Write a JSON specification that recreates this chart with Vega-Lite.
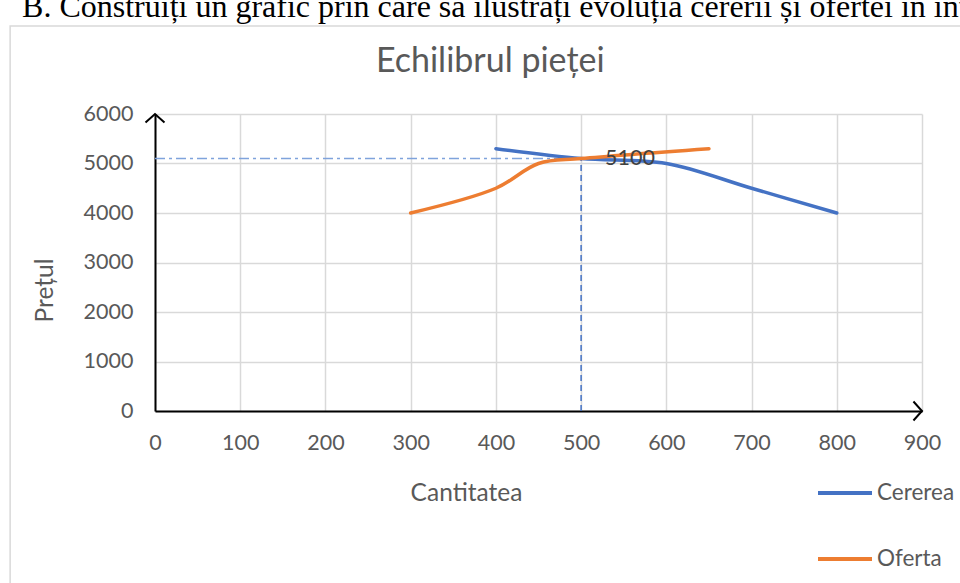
{
  "$schema": "https://vega.github.io/schema/vega-lite/v6.json",
  "autosize": "none",
  "width": 767,
  "height": 297,
  "padding": {"left": 155, "top": 114, "right": 38, "bottom": 172},
  "background": "white",
  "config": {
    "view": {"stroke": null},
    "axis": {
      "domainColor": "#000000",
      "domainWidth": 2,
      "ticks": false,
      "labelFlush": false,
      "gridColor": "#d9d9d9",
      "gridWidth": 1.5,
      "labelFont": "Lato",
      "labelFontSize": 21.5,
      "labelColor": "#595959",
      "titleFont": "Lato",
      "titleFontSize": 24.5,
      "titleFontWeight": "normal",
      "titleColor": "#595959"
    }
  },
  "encoding": {
    "x": {
      "field": "q",
      "type": "quantitative",
      "scale": {"domain": [0, 900], "nice": false, "zero": false},
      "axis": {
        "values": [0, 100, 200, 300, 400, 500, 600, 700, 800, 900],
        "format": "d",
        "title": "Cantitatea",
        "labelPadding": 21,
        "titleX": 311,
        "titleY": 82,
        "titleBaseline": "middle",
        "titleAlign": "center"
      }
    },
    "y": {
      "field": "p",
      "type": "quantitative",
      "scale": {"domain": [0, 6000], "nice": false, "zero": false},
      "axis": {
        "values": [0, 1000, 2000, 3000, 4000, 5000, 6000],
        "format": "d",
        "title": "Prețul",
        "labelPadding": 22,
        "titleX": -110,
        "titleY": 176,
        "titleBaseline": "middle",
        "titleAlign": "center"
      }
    }
  },
  "layer": [
    {
      "data": {"values": [{"q": -170, "q2": 960, "p": 7778, "p2": -4000}]},
      "mark": {"type": "rect", "fill": null, "stroke": "#d9d9d9", "strokeWidth": 1.5, "clip": false},
      "encoding": {"x2": {"field": "q2"}, "y2": {"field": "p2"}}
    },
    {
      "data": {"values": [{"q": -156, "p": 7960, "label": "B. Construiți un grafic prin care să ilustrați evoluția cererii și ofertei în inte"}]},
      "mark": {"type": "text", "align": "left", "baseline": "alphabetic", "font": "Liberation Serif", "fontSize": 32, "color": "#000000"},
      "encoding": {"text": {"field": "label"}}
    },
    {
      "data": {"values": [{"q": 0, "q2": 500, "p": 5100}]},
      "mark": {"type": "rule", "color": "#7fa3dc", "strokeWidth": 1.5, "strokeDash": [10, 4, 3, 4]},
      "encoding": {"x2": {"field": "q2"}}
    },
    {
      "data": {"values": [{"q": 500, "p": 0, "p2": 5100}]},
      "mark": {"type": "rule", "color": "#4472c4", "strokeWidth": 1.5, "strokeDash": [6, 4]},
      "encoding": {"y2": {"field": "p2"}}
    },
    {
      "data": {"values": [
        {"series": "Cererea", "q": 400, "p": 5300},
        {"series": "Cererea", "q": 500, "p": 5100},
        {"series": "Cererea", "q": 600, "p": 5000},
        {"series": "Cererea", "q": 700, "p": 4500},
        {"series": "Cererea", "q": 800, "p": 4000},
        {"series": "Oferta", "q": 300, "p": 4000},
        {"series": "Oferta", "q": 400, "p": 4500},
        {"series": "Oferta", "q": 450, "p": 5000},
        {"series": "Oferta", "q": 500, "p": 5100},
        {"series": "Oferta", "q": 650, "p": 5300}
      ]},
      "mark": {"type": "line", "interpolate": "catmull-rom", "strokeWidth": 3.5, "strokeCap": "round"},
      "encoding": {
        "color": {
          "field": "series",
          "type": "nominal",
          "scale": {"domain": ["Cererea", "Oferta"], "range": ["#4472c4", "#ed7d31"]},
          "legend": {
            "orient": "none",
            "legendX": 661,
            "legendY": 350,
            "title": null,
            "padding": 0,
            "symbolType": "stroke",
            "symbolSize": 2916,
            "symbolStrokeWidth": 4,
            "labelFont": "Lato",
            "labelFontSize": 22.5,
            "labelColor": "#595959",
            "labelOffset": 3,
            "rowPadding": 25
          }
        }
      }
    },
    {
      "data": {"values": [{"q": 500, "p": 5100, "label": "5100"}]},
      "mark": {"type": "text", "align": "left", "baseline": "middle", "dx": 24, "font": "Lato", "fontSize": 21.5, "color": "#404040"},
      "encoding": {"text": {"field": "label"}}
    },
    {
      "data": {"values": [{"q": 393.4, "p": 6848, "label": "Echilibrul pieței"}]},
      "mark": {"type": "text", "align": "center", "baseline": "alphabetic", "font": "Lato", "fontSize": 34, "color": "#595959"},
      "encoding": {"text": {"field": "label"}}
    },
    {
      "data": {"values": [{"q": 0, "p": 6000}]},
      "mark": {"type": "point", "shape": "M-1,0.9L0,0L1,0.9", "size": 361, "filled": false, "stroke": "#000000", "strokeWidth": 2, "opacity": 1}
    },
    {
      "data": {"values": [{"q": 900, "p": 0}]},
      "mark": {"type": "point", "shape": "M-0.9,-1L0,0L-0.9,1", "size": 361, "filled": false, "stroke": "#000000", "strokeWidth": 2, "opacity": 1}
    }
  ]
}
